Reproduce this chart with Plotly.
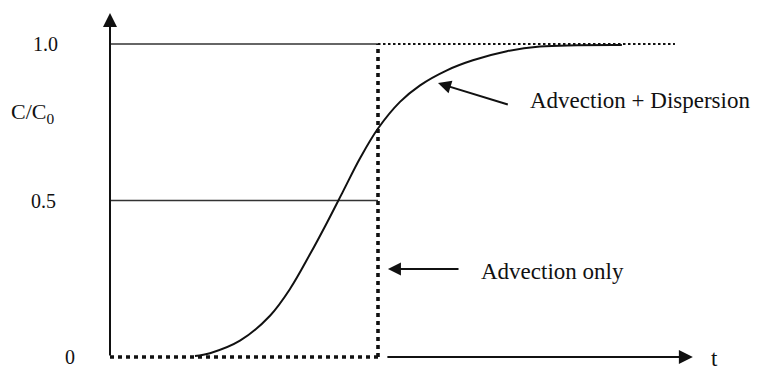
import plotly.graph_objects as go

# ---- data ----
# Advection + dispersion breakthrough curve (t in units of advective arrival time)
curve_t = [0.317, 0.373, 0.485, 0.597, 0.672, 0.746, 0.810, 0.870, 0.933,
           1.000, 1.082, 1.157, 1.257, 1.354, 1.481, 1.604, 1.910]
curve_c = [0.003, 0.012, 0.052, 0.132, 0.218, 0.328, 0.430, 0.530, 0.635,
           0.730, 0.815, 0.868, 0.916, 0.948, 0.977, 0.992, 0.997]

# Advection only (plug flow step)
step_t_low = [0.0, 1.0]
step_c_low = [0.0, 0.0]
step_t_vert = [1.0, 1.0]
step_c_vert = [0.0, 1.0]
step_t_high = [1.0, 2.108]
step_c_high = [1.0, 1.0]

# reference lines
ref_levels = [1.0, 0.5]
ref_t = [0.0, 1.0]

y_tick_vals = [0, 0.5, 1.0]
y_tick_text = ["0", "0.5", "1.0"]
y_label = "C/C<sub>0</sub>"
x_label = "t"
label_disp = "Advection + Dispersion"
label_adv = "Advection only"

FONT = "Liberation Serif, Times New Roman, serif"
INK = "#111111"

fig = go.Figure()

# reference solid lines at 1.0 and 0.5
for lv in ref_levels:
    fig.add_trace(go.Scatter(x=ref_t, y=[lv, lv], mode="lines",
                             line=dict(color="#333333", width=1.6),
                             hoverinfo="skip", showlegend=False))

# x-axis solid part (right of the step)
fig.add_trace(go.Scatter(x=[1.035, 2.14], y=[0, 0], mode="lines",
                         line=dict(color=INK, width=2), hoverinfo="skip", showlegend=False))

# advection-only step (dotted)
fig.add_trace(go.Scatter(x=step_t_low, y=step_c_low, mode="lines",
                         line=dict(color=INK, width=3.6, dash="4px,4px"),
                         hoverinfo="skip", showlegend=False))
fig.add_trace(go.Scatter(x=step_t_vert, y=step_c_vert, mode="lines",
                         line=dict(color=INK, width=3.6, dash="4px,4px"),
                         hoverinfo="skip", showlegend=False))
fig.add_trace(go.Scatter(x=step_t_high, y=step_c_high, mode="lines",
                         line=dict(color=INK, width=2.2, dash="2.5px,2.5px"),
                         hoverinfo="skip", showlegend=False))

# advection + dispersion curve
fig.add_trace(go.Scatter(x=curve_t, y=curve_c, mode="lines",
                         line=dict(color=INK, width=2, shape="spline", smoothing=1.0),
                         hoverinfo="skip", showlegend=False))

ann = []
# y axis with arrow
ann.append(dict(x=0, y=1.099, ax=0, ay=0, xref="x", yref="y", axref="x", ayref="y",
                showarrow=True, arrowhead=2, arrowsize=1.4, arrowwidth=2,
                arrowcolor=INK, text=""))
# x axis arrow head
ann.append(dict(x=2.175, y=0, ax=2.0, ay=0, xref="x", yref="y", axref="x", ayref="y",
                showarrow=True, arrowhead=2, arrowsize=1.4, arrowwidth=2,
                arrowcolor=INK, text=""))

# tick labels
tick_right = {"0": -0.123, "0.5": -0.194, "1.0": -0.187}
for v, t in zip(y_tick_vals, y_tick_text):
    ann.append(dict(x=tick_right[t], y=v, xref="x", yref="y", text=t, showarrow=False,
                    xanchor="right", yanchor="middle",
                    font=dict(family=FONT, size=20, color=INK)))

ann.append(dict(x=-0.291, y=0.78, xref="x", yref="y", text=y_label, showarrow=False,
                xanchor="center", yanchor="middle",
                font=dict(family=FONT, size=22, color=INK)))
ann.append(dict(x=2.257, y=-0.005, xref="x", yref="y", text=x_label, showarrow=False,
                xanchor="center", yanchor="middle",
                font=dict(family=FONT, size=23, color=INK)))

# callouts
ann.append(dict(x=1.224, y=0.875, ax=1.49, ay=0.805, xref="x", yref="y",
                axref="x", ayref="y", showarrow=True, arrowhead=2, arrowsize=1.3,
                arrowwidth=2, arrowcolor=INK, text=""))
ann.append(dict(x=1.56, y=0.821, xref="x", yref="y", text=label_disp, showarrow=False,
                xanchor="left", yanchor="middle",
                font=dict(family=FONT, size=23, color=INK)))
ann.append(dict(x=1.037, y=0.281, ax=1.306, ay=0.281, xref="x", yref="y",
                axref="x", ayref="y", showarrow=True, arrowhead=2, arrowsize=1.3,
                arrowwidth=2, arrowcolor=INK, text=""))
ann.append(dict(x=1.378, y=0.272, xref="x", yref="y", text=label_adv, showarrow=False,
                xanchor="left", yanchor="middle",
                font=dict(family=FONT, size=23, color=INK)))

# page has an 8px body margin: figure is 753x362 and ranges are set so that
# t=0 sits 102px from the figure's left and C=0 sits 349px from its top.
fig.update_layout(
    width=753, height=362, autosize=False,
    margin=dict(l=0, r=0, t=0, b=0),
    paper_bgcolor="white", plot_bgcolor="white",
    xaxis=dict(range=[-0.3806, 2.4291], visible=False, fixedrange=True),
    yaxis=dict(range=[-0.0415, 1.115], visible=False, fixedrange=True),
    annotations=ann,
    showlegend=False,
)

fig.write_html("out.html")
